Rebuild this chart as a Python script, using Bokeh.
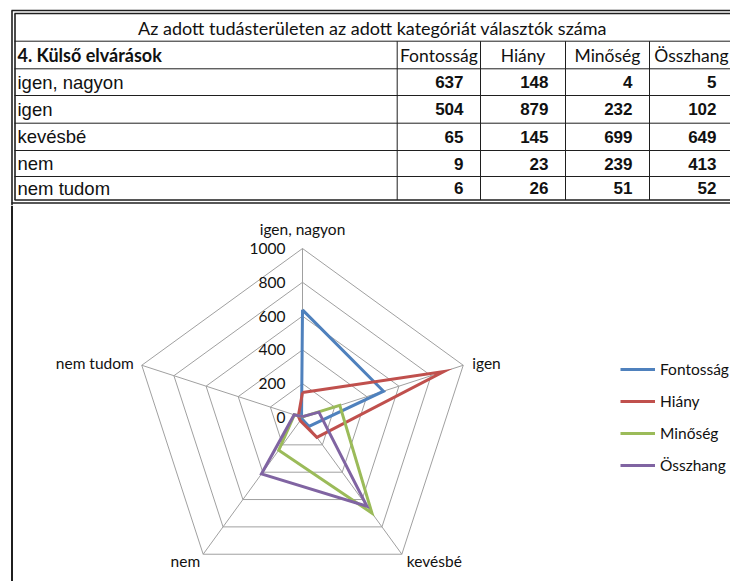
import math

from bokeh.core.properties import value
from bokeh.embed import file_html
from bokeh.layouts import column
from bokeh.models import Legend, LegendItem, Range1d, Span
from bokeh.plotting import figure
from bokeh.resources import INLINE

# ---- data -------------------------------------------------------------
title_text = "Az adott tudásterületen az adott kategóriát választók száma"
section_label = "4. Külső elvárások"
series_names = ["Fontosság", "Hiány", "Minőség", "Összhang"]
categories = ["igen, nagyon", "igen", "kevésbé", "nem", "nem tudom"]
fontossag = [637, 504, 65, 9, 6]
hiany = [148, 879, 145, 23, 26]
minoseg = [4, 232, 699, 239, 51]
osszhang = [5, 102, 649, 413, 52]
radial_ticks = [0, 200, 400, 600, 800, 1000]

series_values = [fontossag, hiany, minoseg, osszhang]
series_colors = ["#4F81BD", "#C0504D", "#9BBB59", "#8064A2"]

W = 730
TABLE_H = 205
RADAR_H = 376

SANS = "Lato"
ARIAL = "Liberation Sans"
INK = "#111111"
RULE = "#1f1f1f"


def bare_figure(height, x_range, y_range):
    p = figure(width=W, height=height, x_range=x_range, y_range=y_range,
               output_backend="svg", toolbar_location=None, min_border=0,
               x_axis_type=None, y_axis_type=None)
    p.grid.visible = False
    p.outline_line_color = None
    p.background_fill_color = "white"
    p.border_fill_color = "white"
    return p


# ---- table (pixel coordinates, y grows downward) ----------------------
tbl = bare_figure(TABLE_H, Range1d(0, W), Range1d(TABLE_H, 0))

row_edges = [40.7, 68.3, 95.0, 122.7, 150.0, 176.0, 199.5]
col_edges = [14.0, 396.7, 480.0, 565.0, 649.0, 733.0]

# inner rules
tbl.segment(x0=[14] * 6, x1=[W] * 6, y0=row_edges[:-1], y1=row_edges[:-1],
            line_color=RULE, line_width=1)
tbl.segment(x0=col_edges[1:-1], x1=col_edges[1:-1],
            y0=[row_edges[0]] * 4, y1=[row_edges[-1]] * 4,
            line_color=RULE, line_width=1)
# double outer border
tbl.segment(x0=[11, 14, 11, 14], x1=[W, W, W, W],
            y0=[10, 13, 202.5, 199.5], y1=[10, 13, 202.5, 199.5],
            line_color=RULE, line_width=1.6)
tbl.segment(x0=[11.5, 14.5], x1=[11.5, 14.5], y0=[10, 13], y1=[TABLE_H, 199.5],
            line_color=RULE, line_width=1.6)

# title row
tbl.text(x=[(11 + 733) / 2], y=[27.5], text=[title_text],
         text_font=value(SANS), text_font_size="18px", text_color=INK,
         text_align="center", text_baseline="middle")

# header row
hdr_y = (row_edges[0] + row_edges[1]) / 2
tbl.text(x=[17], y=[hdr_y], text=[section_label],
         text_font=value(SANS), text_font_style="bold", text_font_size="18px",
         text_color=INK, text_align="left", text_baseline="middle")
col_centers = [(col_edges[i] + col_edges[i + 1]) / 2 for i in range(1, 5)]
tbl.text(x=col_centers, y=[hdr_y] * 4, text=series_names,
         text_font=value(SANS), text_font_size="17.5px", text_color=INK,
         text_align="center", text_baseline="middle")

# category rows
row_centers = [(row_edges[i] + row_edges[i + 1]) / 2 for i in range(1, 6)]
tbl.text(x=[17] * 5, y=row_centers, text=categories,
         text_font=value(ARIAL), text_font_size="18.5px", text_color=INK,
         text_align="left", text_baseline="middle")
for j, vals in enumerate(series_values):
    right = col_edges[j + 2] - 17
    tbl.text(x=[right] * 5, y=row_centers, text=[str(v) for v in vals],
             text_font=value(ARIAL), text_font_style="bold",
             text_font_size="17px", text_color=INK,
             text_align="right", text_baseline="middle")

# ---- radar chart (value units) ----------------------------------------
px_per_unit = 169 / 1000
cx, cy = 302, 212  # centre, in pixels from the left / top of this panel
rad = bare_figure(
    RADAR_H,
    Range1d(-cx / px_per_unit, (W - cx) / px_per_unit),
    Range1d(-(RADAR_H - cy) / px_per_unit, cy / px_per_unit),
)

# left page border continues below the table
rad.add_layout(Span(location=(11.5 - cx) / px_per_unit, dimension="height",
                    line_color=RULE, line_width=2))

n = len(categories)
angles = [math.pi / 2 - 2 * math.pi * k / n for k in range(n)]


def polar(r, a):
    return r * math.cos(a), r * math.sin(a)


grid_color = "#a0a0a0"
rmax = radial_ticks[-1]
ring_xs, ring_ys = [], []
for r in radial_ticks[1:]:
    pts = [polar(r, a) for a in angles + angles[:1]]
    ring_xs.append([q[0] for q in pts])
    ring_ys.append([q[1] for q in pts])
rad.multi_line(ring_xs, ring_ys, line_color=grid_color, line_width=1)
rad.segment(x0=[0] * n, y0=[0] * n,
            x1=[polar(rmax, a)[0] for a in angles],
            y1=[polar(rmax, a)[1] for a in angles],
            line_color=grid_color, line_width=1)

# radial tick labels along the top spoke
rad.text(x=[0] * len(radial_ticks), y=radial_ticks,
         text=[str(t) for t in radial_ticks], x_offset=-17,
         text_font=value(SANS), text_font_size="15.5px", text_color=INK,
         text_align="right", text_baseline="middle")

# category labels at the outer vertices
vx = [polar(rmax, a)[0] for a in angles]
vy = [polar(rmax, a)[1] for a in angles]
label_style = dict(text_font=value(SANS), text_font_size="15.5px", text_color=INK)
rad.text(x=[vx[0]], y=[vy[0]], text=[categories[0]], y_offset=-20,
         text_align="center", text_baseline="alphabetic", **label_style)
rad.text(x=[vx[1]], y=[vy[1]], text=[categories[1]], x_offset=9, y_offset=-2,
         text_align="left", text_baseline="middle", **label_style)
rad.text(x=[vx[2]], y=[vy[2]], text=[categories[2]], x_offset=5, y_offset=7,
         text_align="left", text_baseline="middle", **label_style)
rad.text(x=[vx[3]], y=[vy[3]], text=[categories[3]], x_offset=-3, y_offset=7,
         text_align="right", text_baseline="middle", **label_style)
rad.text(x=[vx[4]], y=[vy[4]], text=[categories[4]], x_offset=-8, y_offset=-2,
         text_align="right", text_baseline="middle", **label_style)

# data series
items = []
for name, vals, color in zip(series_names, series_values, series_colors):
    pts = [polar(v, a) for v, a in zip(vals, angles)]
    pts.append(pts[0])
    r = rad.line([q[0] for q in pts], [q[1] for q in pts],
                 line_color=color, line_width=3, line_join="miter")
    items.append(LegendItem(label=name, renderers=[r]))

# legend anchored by its bottom-left corner (pixels from the frame's bottom-left)
legend_h = 4 * 20 + 3 * 12
legend = Legend(items=items, location=(620, RADAR_H - 154 - legend_h),
                glyph_width=35, glyph_height=20, label_height=20,
                spacing=12, padding=0, margin=0, label_standoff=5,
                label_text_font=SANS, label_text_font_size="15.5px",
                label_text_color=INK, border_line_color=None,
                background_fill_alpha=0)
rad.add_layout(legend, "center")

page = column(tbl, rad, spacing=0)
open("out.html", "w").write(file_html(page, INLINE))
